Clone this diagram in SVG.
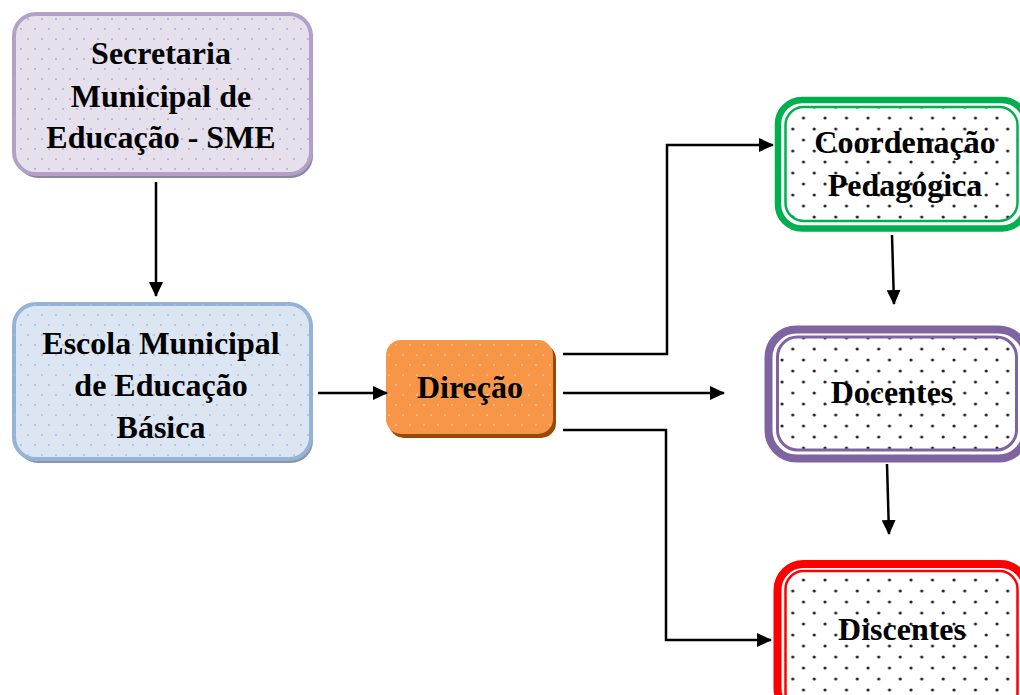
<svg xmlns="http://www.w3.org/2000/svg" width="1020" height="695" viewBox="0 0 1020 695">
  <defs>
    <!-- staggered dot textures -->
    <pattern id="dotsLav" width="14" height="20" patternUnits="userSpaceOnUse" x="4" y="6">
      <circle cx="3" cy="3" r="1.1" fill="#b9a9cd"/>
      <circle cx="10" cy="13" r="1.1" fill="#b9a9cd"/>
    </pattern>
    <pattern id="dotsBlue" width="14" height="20" patternUnits="userSpaceOnUse" x="4" y="2">
      <circle cx="3" cy="3" r="1.1" fill="#a9c0dc"/>
      <circle cx="10" cy="13" r="1.1" fill="#a9c0dc"/>
    </pattern>
    <pattern id="dotsOrange" width="14" height="20" patternUnits="userSpaceOnUse" x="1" y="2">
      <circle cx="3" cy="3" r="1.1" fill="#fbbf8e"/>
      <circle cx="10" cy="13" r="1.1" fill="#fbbf8e"/>
    </pattern>
    <pattern id="dotsBlack" width="21.5" height="22" patternUnits="userSpaceOnUse" x="3" y="3">
      <circle cx="5" cy="5" r="1.6" fill="#222"/>
      <circle cx="15.75" cy="16" r="1.6" fill="#222"/>
    </pattern>
    <marker id="arrow" viewBox="0 0 15 14" refX="14" refY="7" markerWidth="15" markerHeight="14" markerUnits="userSpaceOnUse" orient="auto">
      <path d="M0,0 L15,7 L0,14 Z" fill="#000"/>
    </marker>
  </defs>
  <style>
    .label { font-family: "Liberation Serif", "Times New Roman", serif; font-weight: bold; font-size: 32px; fill: #000; text-anchor: middle; }
    .conn { fill: none; stroke: #000; stroke-width: 2.5; }
  </style>

  <rect width="1020" height="695" fill="#fff"/>

  <!-- Secretaria Municipal -->
  <g id="sme">
    <rect x="16" y="17" width="297" height="161" rx="22" fill="#8f85a0"/>
    <rect x="14" y="14" width="297" height="160" rx="22" fill="#e5e0ec" stroke="#b2a1c7" stroke-width="4"/>
    <rect x="14" y="14" width="297" height="160" rx="22" fill="url(#dotsLav)"/>
    <text class="label" x="161" y="64">Secretaria</text>
    <text class="label" x="161" y="107">Municipal de</text>
    <text class="label" x="161" y="148">Educação - SME</text>
  </g>

  <!-- Escola Municipal -->
  <g id="escola">
    <rect x="16" y="307" width="297" height="156" rx="22" fill="#8a96a8"/>
    <rect x="14" y="304" width="297" height="155" rx="22" fill="#dce6f2" stroke="#95b3d7" stroke-width="4"/>
    <rect x="14" y="304" width="297" height="155" rx="22" fill="url(#dotsBlue)"/>
    <text class="label" x="161" y="354">Escola Municipal</text>
    <text class="label" x="161" y="396">de Educação</text>
    <text class="label" x="161" y="438">Básica</text>
  </g>

  <!-- Direção -->
  <g id="direcao">
    <rect x="389" y="344" width="167" height="94" rx="15" fill="#984807"/>
    <rect x="386" y="340" width="167" height="94" rx="15" fill="#f79646"/>
    <rect x="386" y="340" width="167" height="94" rx="15" fill="url(#dotsOrange)"/>
    <text class="label" x="470" y="398">Direção</text>
  </g>

  <!-- Coordenação Pedagógica -->
  <g id="coordenacao">
    <rect x="778" y="100" width="248" height="128.5" rx="24" fill="#fff" stroke="#00b050" stroke-width="6.5"/>
    <rect x="785.5" y="107" width="232" height="114" rx="18" fill="url(#dotsBlack)" stroke="#00b050" stroke-width="2.5"/>
    <text class="label" x="905" y="153">Coordenação</text>
    <text class="label" x="905" y="196">Pedagógica</text>
  </g>

  <!-- Docentes -->
  <g id="docentes">
    <rect x="768.5" y="329.5" width="258" height="129" rx="28" fill="#fff" stroke="#8064a2" stroke-width="8"/>
    <rect x="777.5" y="337" width="239" height="113" rx="20" fill="url(#dotsBlack)" stroke="#8064a2" stroke-width="3"/>
    <text class="label" x="892" y="403">Docentes</text>
  </g>

  <!-- Discentes -->
  <g id="discentes">
    <rect x="777.5" y="564" width="249" height="150" rx="26" fill="#fff" stroke="#ff0000" stroke-width="8"/>
    <rect x="785.5" y="571" width="232" height="140" rx="18" fill="url(#dotsBlack)" stroke="#ff0000" stroke-width="2.5"/>
    <text class="label" x="902" y="640">Discentes</text>
  </g>

  <!-- connectors -->
  <g id="connectors">
    <line class="conn" x1="156" y1="182" x2="156" y2="296" marker-end="url(#arrow)"/>
    <line class="conn" x1="318" y1="393" x2="387" y2="393" marker-end="url(#arrow)"/>
    <polyline class="conn" points="563,354 667,354 667,145 773,145" marker-end="url(#arrow)"/>
    <line class="conn" x1="563" y1="393" x2="724" y2="393" marker-end="url(#arrow)"/>
    <polyline class="conn" points="563,430 666,430 666,640 771,640" marker-end="url(#arrow)"/>
    <line class="conn" x1="892" y1="235" x2="894" y2="304" marker-end="url(#arrow)"/>
    <line class="conn" x1="887" y1="464" x2="889" y2="534" marker-end="url(#arrow)"/>
  </g>
</svg>
